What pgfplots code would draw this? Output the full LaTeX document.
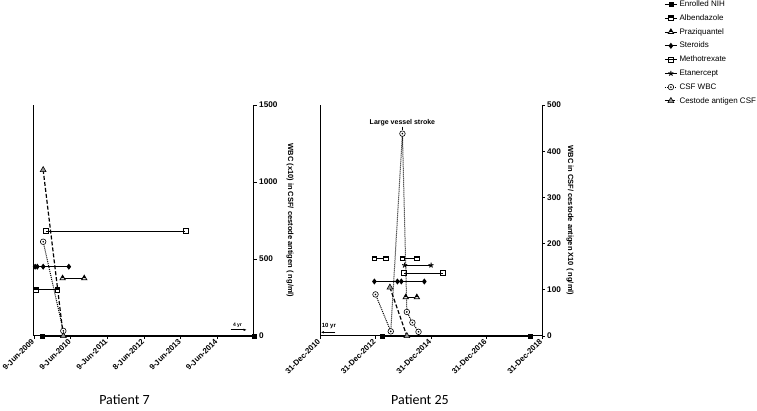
\documentclass[border=0pt]{standalone}
\usepackage{fontspec}
\setmainfont{Liberation Sans}
\newfontfamily\calibri{Carlito}
\usepackage{pgfplots}
\pgfplotsset{compat=1.18}
\usetikzlibrary{arrows.meta}

% square with the upper half filled
\pgfdeclareplotmark{halfsquare}{%
  \pgfsetfillcolor{white}%
  \pgfpathrectangle{\pgfpoint{-\pgfplotmarksize}{-\pgfplotmarksize}}{\pgfpoint{2\pgfplotmarksize}{2\pgfplotmarksize}}%
  \pgfusepathqfillstroke
  \pgfsetfillcolor{black}%
  \pgfpathrectangle{\pgfpoint{-\pgfplotmarksize}{0pt}}{\pgfpoint{2\pgfplotmarksize}{\pgfplotmarksize}}%
  \pgfusepathqfill
  \pgfsetfillcolor{white}%
}
% triangle with the tip filled
\pgfdeclareplotmark{halftri}{%
  \pgfsetfillcolor{white}%
  \pgfpathmoveto{\pgfpoint{0pt}{\pgfplotmarksize}}%
  \pgfpathlineto{\pgfpoint{-.866\pgfplotmarksize}{-.5\pgfplotmarksize}}%
  \pgfpathlineto{\pgfpoint{.866\pgfplotmarksize}{-.5\pgfplotmarksize}}%
  \pgfpathclose
  \pgfusepathqfillstroke
  \pgfsetfillcolor{black}%
  \pgfpathmoveto{\pgfpoint{0pt}{\pgfplotmarksize}}%
  \pgfpathlineto{\pgfpoint{-.577\pgfplotmarksize}{0pt}}%
  \pgfpathlineto{\pgfpoint{.577\pgfplotmarksize}{0pt}}%
  \pgfpathclose
  \pgfusepathqfill
  \pgfsetfillcolor{white}%
}
% circle with a dot
\pgfdeclareplotmark{odot}{%
  \pgfsetfillcolor{white}%
  \pgfpathcircle{\pgfpointorigin}{\pgfplotmarksize}%
  \pgfusepathqfillstroke
  \pgfsetfillcolor{black}%
  \pgfpathcircle{\pgfpointorigin}{.32\pgfplotmarksize}%
  \pgfusepathqfill
  \pgfsetfillcolor{white}%
}

\pgfplotsset{
  base/.style={
    scale only axis, height=231pt, clip=false,
    axis x line*=bottom, axis y line*=right,
    axis line style={line width=1pt},
    every tick/.style={black, line width=0.8pt},
    major tick length=3pt, tick align=outside,
    ymin=0,
    /pgf/number format/assume math mode=true,
    /pgf/number format/1000 sep={},
    x tick label style={rotate=45, anchor=east, font=\bfseries\fontsize{7.8}{8}\selectfont, inner sep=1.5pt},
    y tick label style={font=\bfseries\fontsize{8.2}{9}\selectfont, inner sep=2pt},
    every axis y label/.style={at={(rel axis cs:1,0.5)}, anchor=center, rotate=-90, font=\bfseries\fontsize{7.5}{9}\selectfont},
    legend image code/.code={\draw[mark repeat=2,mark phase=2] plot coordinates {(0pt,0pt) (6pt,0pt) (12pt,0pt)};},
  },
  enr/.style={black, line width=0.8pt, mark=square*, mark size=2pt},
  alb/.style={black, line width=0.8pt, mark=halfsquare, mark size=2.4pt},
  prz/.style={black, line width=0.8pt, mark=halftri, mark size=3pt},
  ste/.style={black, line width=0.8pt, mark=diamond*, mark size=2.4pt},
  mtx/.style={black, line width=0.8pt, mark=square, mark size=2.5pt, mark options={fill=white}},
  eta/.style={black, line width=0.8pt, mark=star, mark size=2.6pt, mark options={line width=1pt}},
  wbc/.style={black, line width=1pt, dash pattern=on 1pt off 1pt, mark=odot, mark size=2.8pt, mark options={solid, line width=0.6pt}},
  ces/.style={black, line width=1.2pt, dash pattern=on 4pt off 2pt, mark=triangle*, mark size=3.4pt, mark options={fill=black!40, solid, line width=0.6pt}},
}

\begin{document}
\begin{tikzpicture}
\useasboundingbox (0,0) rectangle (757pt,411pt);

% ---------------- Patient 7 ----------------
\begin{axis}[base,
  at={(34pt,75pt)}, anchor=south west, width=220pt,
  xmin=0, xmax=6, ymax=1500,
  xtick={0,1,2,3,4,5},
  xticklabels={9-Jun-2009,9-Jun-2010,9-Jun-2011,8-Jun-2012,9-Jun-2013,9-Jun-2014},
  ytick={0,500,1000,1500},
  ylabel={WBC (x10) in CSF/ cestode antigen ( ng/ml)},
  ylabel style={yshift=36pt},
]
\draw[line width=1pt] (rel axis cs:0,0) -- (rel axis cs:0,1);
\addplot[enr] coordinates {(0.24,0) (6.0,0)};
\addplot[alb] coordinates {(0.05,300) (0.64,300)};
\addplot[prz] coordinates {(0.78,375) (1.37,375)};
\addplot[ste] coordinates {(0.03,450) (0.09,450) (0.25,450) (0.95,450)};
\addplot[mtx] coordinates {(0.32,680) (4.13,680)};
\addplot[wbc] coordinates {(0.25,612) (0.80,33)};
\addplot[ces] coordinates {(0.25,1078) (0.80,0)};
\draw[-{Latex[length=3pt,width=2.5pt]}, line width=0.7pt] (axis cs:5.36,40) -- (axis cs:5.80,40);
\node[font=\bfseries\fontsize{5}{6}\selectfont, inner sep=0.5pt] at (axis cs:5.55,72) {4 yr};
\end{axis}

% ---------------- Patient 25 ----------------
\begin{axis}[base,
  at={(320pt,75pt)}, anchor=south west, width=222pt,
  xmin=0, xmax=8, ymax=500,
  xtick={0,2,4,6,8},
  xticklabels={31-Dec-2010,31-Dec-2012,31-Dec-2014,31-Dec-2016,31-Dec-2018},
  ytick={0,100,200,300,400,500},
  ylabel={WBC in CSF/ cestode antigen X10 ( ng/ml)},
  ylabel style={yshift=28pt},
  legend style={at={(1.55,1.462)}, anchor=north west, draw=none, fill=none,
    font=\fontsize{8}{9}\selectfont, row sep=2.6pt, inner sep=0pt,
    cells={anchor=west}},
]
\draw[line width=1pt] (rel axis cs:0,0) -- (rel axis cs:0,1);
\addplot[enr] coordinates {(2.24,0) (7.58,0)};
\addlegendentry{Enrolled NIH}
\addplot[alb] coordinates {(1.96,168) (2.38,168)};
\addlegendentry{Albendazole}
\addplot[alb, forget plot] coordinates {(2.97,168) (3.49,168)};
\addplot[prz] coordinates {(3.09,84) (3.49,84)};
\addlegendentry{Praziquantel}
\addplot[ste] coordinates {(1.96,118) (2.79,118) (2.93,118) (3.76,118)};
\addlegendentry{Steroids}
\addplot[mtx] coordinates {(3.03,136) (4.42,136)};
\addlegendentry{Methotrexate}
\addplot[eta] coordinates {(3.05,153) (4.00,153)};
\addlegendentry{Etanercept}
\addplot[wbc] coordinates {(2.00,90) (2.55,10) (2.97,438) (3.13,52) (3.33,29) (3.55,9)};
\addlegendentry{CSF WBC}
\addplot[ces] coordinates {(2.52,105) (3.13,0)};
\addlegendentry{Cestode antigen CSF}
\draw[line width=0.7pt] (axis cs:2.97,453) -- (axis cs:2.97,445);
\node[font=\bfseries\fontsize{7}{8}\selectfont, anchor=south, inner sep=0.5pt] at (axis cs:2.97,454) {Large vessel stroke};
\draw[-{Latex[length=3pt,width=2.5pt]}, line width=0.7pt] (axis cs:0.55,8) -- (axis cs:0.03,8);
\node[font=\bfseries\fontsize{6}{7}\selectfont, inner sep=0.5pt] at (axis cs:0.32,22) {10 yr};
\end{axis}

\node[font=\calibri\fontsize{14}{16}\selectfont] at (124.5pt,11pt) {Patient 7};
\node[font=\calibri\fontsize{14}{16}\selectfont] at (420pt,11pt) {Patient 25};
\end{tikzpicture}
\end{document}
